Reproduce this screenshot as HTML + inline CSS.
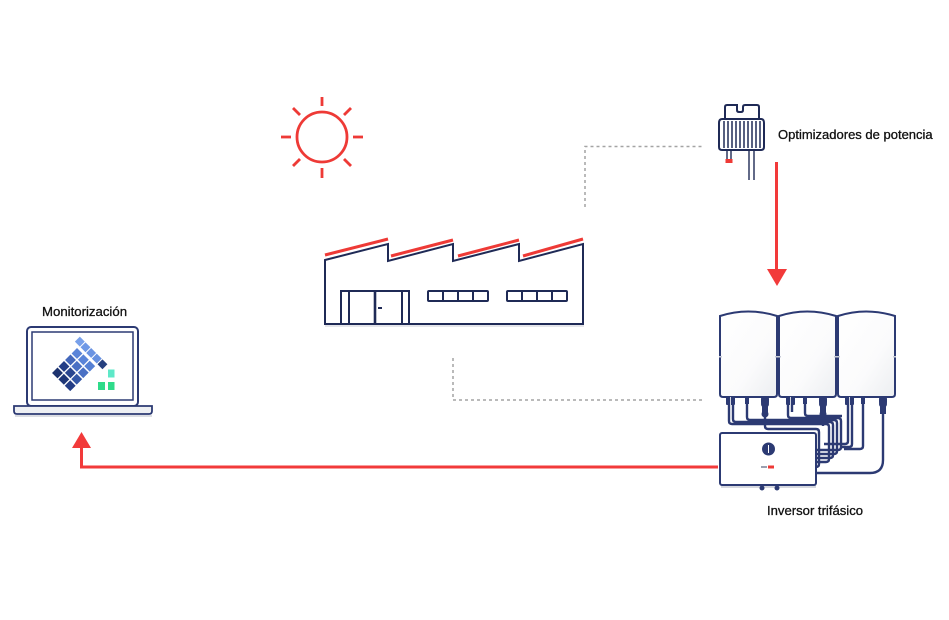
<!DOCTYPE html>
<html><head><meta charset="utf-8"><style>
html,body{margin:0;padding:0;background:#fff;}
svg{display:block;}
text{font-family:"Liberation Sans",sans-serif;fill:#111;stroke:#111;stroke-width:0.3px;}
</style></head><body>
<svg width="949" height="620" viewBox="0 0 949 620" xmlns="http://www.w3.org/2000/svg">
<rect width="949" height="620" fill="#fff"/>
<defs>
<linearGradient id="pg" x1="0" y1="0" x2="1" y2="1">
<stop offset="0" stop-color="#ffffff"/><stop offset="0.6" stop-color="#fbfbfc"/><stop offset="1" stop-color="#eceef1"/>
</linearGradient>
</defs>

<!-- Sun -->
<g stroke="#ee3a36" stroke-width="2.8" fill="none">
<circle cx="322" cy="137" r="25"/>
<line x1="322" y1="97" x2="322" y2="106"/>
<line x1="322" y1="168" x2="322" y2="178"/>
<line x1="281" y1="137" x2="291" y2="137"/>
<line x1="353" y1="137" x2="363" y2="137"/>
<line x1="293" y1="108" x2="300" y2="115"/>
<line x1="344" y1="159" x2="351" y2="166"/>
<line x1="351" y1="108" x2="344" y2="115"/>
<line x1="300" y1="159" x2="293" y2="166"/>
</g>

<!-- Dashed connectors -->
<g stroke="#a4a4a4" stroke-width="1.5" fill="none" stroke-dasharray="3 3">
<path d="M585,207 V146.5 H702"/>
<path d="M453,358 V400 H702"/>
</g>

<!-- Factory -->
<rect x="325" y="324" width="259" height="3" fill="#e4e5ea"/>
<g stroke="#ee3a36" stroke-width="3" fill="none">
<line x1="325" y1="255" x2="388" y2="239"/>
<line x1="391" y1="256" x2="453" y2="240"/>
<line x1="458" y1="256" x2="519" y2="240"/>
<line x1="523" y1="256" x2="583" y2="239"/>
</g>
<g stroke="#1f2a56" stroke-width="2" fill="none">
<path d="M325,260 L388,244 L388,261 L453,244 L453,261 L519,244 L519,261 L583,244 L583,324 L325,324 Z" fill="#fff"/>
<rect x="341" y="291" width="68" height="33"/>
<line x1="349" y1="291" x2="349" y2="324"/>
<line x1="375" y1="291" x2="375" y2="324" stroke-width="2.6"/>
<line x1="402" y1="291" x2="402" y2="324"/>
<line x1="378" y1="308" x2="382" y2="308"/>
<rect x="428" y="291" width="60" height="10" rx="1"/>
<line x1="443" y1="291" x2="443" y2="301"/>
<line x1="458" y1="291" x2="458" y2="301"/>
<line x1="473" y1="291" x2="473" y2="301"/>
<rect x="507" y="291" width="60" height="10" rx="1"/>
<line x1="522" y1="291" x2="522" y2="301"/>
<line x1="537" y1="291" x2="537" y2="301"/>
<line x1="552" y1="291" x2="552" y2="301"/>
</g>

<!-- Optimizer -->
<g stroke="#1f2a56" stroke-width="2" fill="none">
<path d="M725,119 V107 Q725,105 727,105 H737 V110 Q737,112 739,112 H741 Q743,112 743,110 V107 Q743,105 745,105 H757 Q759,105 759,107 V119"/>
<path d="M722,119 H761 Q764,119 764,123 V147 Q764,150 761,150 H722 Q719,150 719,147 V123 Q719,119 722,119 Z" fill="#fff"/>
<g stroke-width="1.5">
<line x1="724" y1="121" x2="724" y2="148"/>
<line x1="728" y1="121" x2="728" y2="148"/>
<line x1="732" y1="121" x2="732" y2="148"/>
<line x1="736" y1="121" x2="736" y2="148"/>
<line x1="740" y1="121" x2="740" y2="148"/>
<line x1="744" y1="121" x2="744" y2="148"/>
<line x1="748" y1="121" x2="748" y2="148"/>
<line x1="752" y1="121" x2="752" y2="148"/>
<line x1="756" y1="121" x2="756" y2="148"/>
<line x1="760" y1="121" x2="760" y2="148"/>
</g>
<g stroke-width="1.4">
<line x1="727" y1="150" x2="727" y2="163"/>
<line x1="731" y1="150" x2="731" y2="163"/>
<line x1="749" y1="150" x2="749" y2="180"/>
<line x1="754" y1="150" x2="754" y2="180"/>
</g>
</g>
<rect x="725.5" y="159" width="7" height="4" fill="#ee3a36"/>
<text x="778" y="139" font-size="13">Optimizadores de potencia</text>

<!-- Red arrow down -->
<line x1="776.5" y1="162" x2="776.5" y2="272" stroke="#f23a3a" stroke-width="3"/>
<polygon points="767,269 787,269 777,286" fill="#f23a3a"/>

<!-- Red arrow to laptop -->
<path d="M718,467 H81.5 V446" stroke="#f23a3a" stroke-width="3" fill="none"/>
<polygon points="72,448 91,448 81.5,432" fill="#f23a3a"/>

<!-- Inverter panels -->
<g stroke="#2c3a73" stroke-width="2" fill="url(#pg)">
<path d="M720,316 Q748,307 777,316 V394 Q777,397 774,397 H723 Q720,397 720,394 Z"/>
<path d="M779,316 Q807,307 836,316 V394 Q836,397 833,397 H782 Q779,397 779,394 Z"/>
<path d="M838,316 Q866,307 895,316 V394 Q895,397 892,397 H841 Q838,397 838,394 Z"/>
</g>
<g fill="#c9cdd8">
<rect x="719" y="356" width="3" height="1.5"/><rect x="775" y="356" width="3" height="1.5"/>
<rect x="778" y="356" width="3" height="1.5"/><rect x="834" y="356" width="3" height="1.5"/>
<rect x="837" y="356" width="3" height="1.5"/><rect x="893" y="356" width="3" height="1.5"/>
</g>

<!-- Cables -->
<g stroke="#2c3a73" stroke-width="2.4" fill="none">
<path d="M729,398 V421 Q729,424 732,424 H826 Q829,424 829,427 V459 Q829,462 826,462 H815"/>
<path d="M733,398 V419 Q733,422 736,422 H830 Q833,422 833,425 V455 Q833,458 830,458 H815"/>
<path d="M747,398 V417 Q747,420 750,420 H834 Q837,420 837,423 V451 Q837,454 834,454 H815"/>
<path d="M765,398 V426 Q765,429 768,429 H816 Q819,429 819,432 V464 Q819,467 816,467 H815"/>
<path d="M788,398 V415 Q788,418 791,418 H838 Q841,418 841,421 V447 Q841,450 838,450 H815"/>
<path d="M792,398 V412"/>
<path d="M805,398 V413 Q805,416 808,416 H842"/>
<path d="M823,398 V426"/>
<path d="M848,398 V441 Q848,444 845,444 H824"/>
<path d="M852,398 V444 Q852,447 849,447 H840"/>
<path d="M863,398 V446 Q863,449 860,449 H844"/>
<path d="M883,398 V460 Q883,473 870,473 H815"/>
</g>
<!-- connectors -->
<g fill="#2c3a73">
<rect x="726" y="397" width="9" height="8" rx="1"/>
<rect x="745" y="397" width="4" height="7"/>
<rect x="761" y="397" width="8" height="7" rx="2"/>
<circle cx="765" cy="404" r="4"/>
<rect x="762" y="406" width="6" height="8"/>
<circle cx="765" cy="414" r="3.5"/>
<rect x="786" y="397" width="9" height="8" rx="1"/>
<rect x="803" y="397" width="4" height="7"/>
<rect x="819" y="397" width="8" height="7" rx="2"/>
<circle cx="823" cy="404" r="4"/>
<rect x="820" y="406" width="6" height="8"/>
<circle cx="823" cy="414" r="3.5"/>
<rect x="845" y="397" width="9" height="8" rx="1"/>
<rect x="861" y="397" width="4" height="7"/>
<rect x="879" y="397" width="8" height="7" rx="2"/>
<circle cx="883" cy="404" r="4"/>
<rect x="880" y="406" width="6" height="8"/>
</g>
<g stroke="#fff" stroke-width="0.8">
<line x1="730.5" y1="397" x2="730.5" y2="405"/>
<line x1="790.5" y1="397" x2="790.5" y2="405"/>
<line x1="849.5" y1="397" x2="849.5" y2="405"/>
</g>

<!-- Inverter box -->
<rect x="721" y="485" width="95" height="3" fill="#d6d8df"/>
<rect x="720" y="433" width="96" height="52" rx="2" fill="#fff" stroke="#2c3a73" stroke-width="2"/>
<circle cx="768.5" cy="449" r="6.5" fill="#2c3a73"/>
<line x1="768.5" y1="445" x2="768.5" y2="453" stroke="#fff" stroke-width="1"/>
<rect x="761" y="466" width="6" height="2" fill="#9aa0b0"/>
<rect x="768" y="465.5" width="6" height="3" fill="#ee3a36"/>
<circle cx="762" cy="488" r="2.5" fill="#2c3a73"/>
<circle cx="777" cy="488" r="2.5" fill="#2c3a73"/>
<text x="767" y="515" font-size="13.1">Inversor trifásico</text>

<!-- Laptop -->
<text x="42" y="316" font-size="13.2">Monitorización</text>
<rect x="27" y="327" width="111" height="79" rx="4" fill="#fff" stroke="#2c3a73" stroke-width="2"/>
<rect x="32" y="332" width="101" height="68" fill="#fff" stroke="#2c3a73" stroke-width="1.5"/>
<path d="M14,406 H152 V411 Q152,414 149,414 H17 Q14,414 14,411 Z" fill="#eef0f3" stroke="#2c3a73" stroke-width="1.8"/>
<rect x="15" y="415" width="137" height="2" fill="#dcdee3"/>
<!-- solar icon -->
<g transform="translate(77,348) rotate(45)">
<!-- strip -->
<rect x="-6" y="-10" width="7" height="7" fill="#78a0ea"/>
<rect x="2" y="-10" width="7" height="7" fill="#6e98e6"/>
<rect x="10" y="-10" width="7" height="7" fill="#6a93e2"/>
<rect x="18" y="-10" width="7" height="7" fill="#6690e0"/>
<rect x="26" y="-10" width="7" height="7" fill="#25407f"/>
<!-- main block: 3 cols x 4 rows -->
<rect x="0" y="0" width="7.7" height="7.7" fill="#5a84d8"/>
<rect x="9" y="0" width="7.7" height="7.7" fill="#5a84d8"/>
<rect x="18" y="0" width="7.7" height="7.7" fill="#5580d4"/>
<rect x="0" y="9.2" width="7.7" height="7.7" fill="#4468bb"/>
<rect x="9" y="9.2" width="7.7" height="7.7" fill="#4a70c4"/>
<rect x="18" y="9.2" width="7.7" height="7.7" fill="#4a70c4"/>
<rect x="0" y="18.4" width="7.7" height="7.7" fill="#243e86"/>
<rect x="9" y="18.4" width="7.7" height="7.7" fill="#2a468f"/>
<rect x="18" y="18.4" width="7.7" height="7.7" fill="#3457a6"/>
<rect x="0" y="27.6" width="7.7" height="7.7" fill="#1d336f"/>
<rect x="9" y="27.6" width="7.7" height="7.7" fill="#1f3777"/>
<rect x="18" y="27.6" width="7.7" height="7.7" fill="#243e86"/>
</g>
<rect x="108" y="369.5" width="6.5" height="8" fill="#5ee8c8"/>
<rect x="98" y="382" width="7" height="8" fill="#2fdb8a"/>
<rect x="108" y="382" width="6.5" height="8" fill="#2fdb8a"/>
</svg>
</body></html>
